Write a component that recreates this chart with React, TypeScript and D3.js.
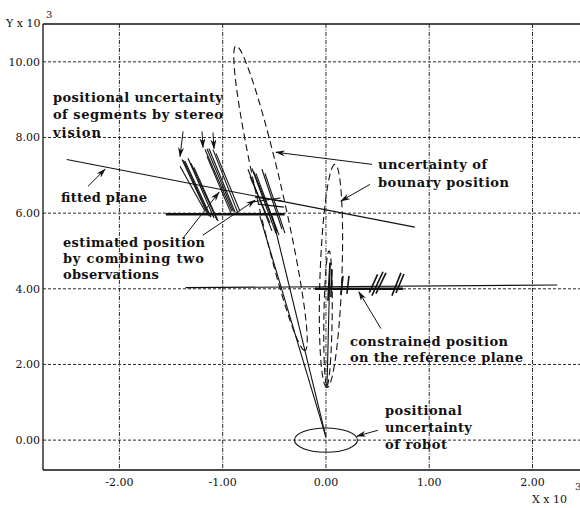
import React from "react";
import * as d3 from "d3";

// axis ticks (values are x 10^3)
const xTicks = [-2, -1, 0, 1, 2];
const yTicks = [0, 2, 4, 6, 8, 10];

// segments measured by stereo vision [x1, y1, x2, y2]
const stereoSegments = [
  [-1.394, 7.42, -1.142, 5.95],
  [-1.38, 7.40, -1.128, 5.92],
  [-1.365, 7.37, -1.113, 5.89],
  [-1.336, 7.45, -1.084, 5.87],
  [-1.307, 7.32, -1.055, 5.82],
  [-1.413, 7.24, -1.171, 6.05],
  [-1.278, 7.21, -1.045, 5.79],
  [-1.171, 7.68, -0.91, 6.05],
  [-1.152, 7.70, -0.895, 6.04],
  [-1.133, 7.71, -0.881, 6.03],
  [-1.094, 7.68, -0.852, 6.0],
  [-1.152, 7.5, -0.92, 6.0],
  [-1.065, 7.58, -0.833, 6.05],
  [-0.755, 7.16, -0.523, 5.53],
  [-0.716, 7.18, -0.484, 5.47],
  [-0.70, 7.10, -0.47, 5.50],
  [-0.678, 7.05, -0.455, 5.42],
  [-0.62, 7.16, -0.426, 5.58],
  [-0.59, 7.05, -0.397, 5.47],
  [-0.736, 6.97, -0.542, 5.74],
];

// estimated positions after combining two observations
const estimatedSegments = [
  [-0.687, 6.42, -0.426, 6.32],
  [-0.658, 6.24, -0.407, 6.16],
  [-0.70, 6.30, -0.44, 6.40],
];

// positions constrained on the reference plane
const constrainedMarks = [
  [0.039, 4.68, 0.019, 3.68],
  [0.058, 4.52, 0.048, 3.78],
  [0.165, 4.34, 0.145, 3.84],
  [0.223, 4.34, 0.203, 3.87],
  [0.552, 4.45, 0.445, 3.82],
  [0.581, 4.42, 0.484, 3.87],
  [0.50, 4.38, 0.42, 3.90],
  [0.726, 4.42, 0.639, 3.82],
  [0.755, 4.39, 0.678, 3.89],
];

const fittedPlane = [-2.51, 7.42, 0.86, 5.63];
const referencePlane = [-1.36, 4.03, 2.24, 4.1];
const boldLines = [
  [-1.55, 5.97, -0.4, 5.97],
  [-0.106, 4.0, 0.745, 4.0],
];
const sightLines = [
  [0, 0.08, -0.64, 5.92],
  [0, 0.08, -0.52, 5.92],
  [0.01, 1.39, 0.04, 4.7],
];

// boundary uncertainty ellipses: tip x, tip y, base x, base y, half width
const boundaryEllipses = [
  [-0.871, 10.42, -0.203, 2.37, 0.126],
  [0.087, 7.29, 0.01, 1.39, 0.106],
  [0.03, 5.0, 0.01, 1.45, 0.04],
];
// robot position uncertainty: cx, cy, rx, ry
const robotEllipse = [0, 0, 0.305, 0.32];

const arrows = [
  [0.445, 7.29, -0.484, 7.61],
  [0.426, 6.76, 0.145, 6.32],
  [-2.304, 6.71, -2.139, 7.16],
  [-1.384, 8.16, -1.413, 7.5],
  [-1.2, 8.16, -1.191, 7.74],
  [-1.094, 8.13, -1.084, 7.71],
  [-1.384, 5.34, -1.036, 6.55],
  [-1.191, 5.42, -0.687, 6.34],
  [0.532, 2.95, 0.319, 3.92],
  [0.503, 0.26, 0.3, 0.105],
];

const labelText = [
  "positional uncertainty",
  "of segments by stereo",
  "vision",
  "fitted plane",
  "estimated position",
  "by combining two",
  "observations",
  "uncertainty of",
  "bounary position",
  "constrained position",
  "on the reference plane",
  "positional",
  "uncertainty",
  "of robot",
];
const labelX = [-2.644, -2.644, -2.644, -2.566, -2.547, -2.547, -2.547, 0.504, 0.504, 0.232, 0.232, 0.571, 0.571, 0.571];
const labelY = [8.94, 8.49, 8.01, 6.29, 5.1, 4.68, 4.26, 7.17, 6.7, 2.49, 2.07, 0.66, 0.21, -0.23];
const labelWidth = [170, 170, 48, 86, 142, 141, 96, 109, 131, 158, 173, 77, 87, 62];

const W = 580;
const H = 508;

const App = () => {
  const x = d3.scaleLinear().domain([-2.74, 2.46]).range([43, 580]);
  const y = d3.scaleLinear().domain([-0.79, 11.0]).range([470, 24]);
  const unit = x(1) - x(0);
  const ink = "#111";

  const seg = (d: number[], i: number, props: any) => (
    <line key={i} x1={x(d[0])} y1={y(d[1])} x2={x(d[2])} y2={y(d[3])} {...props} />
  );

  const ellipsePath = (e: number[]) => {
    const p1 = [x(e[0]), y(e[1])];
    const p2 = [x(e[2]), y(e[3])];
    const cx = (p1[0] + p2[0]) / 2;
    const cy = (p1[1] + p2[1]) / 2;
    const a = Math.hypot(p2[0] - p1[0], p2[1] - p1[1]) / 2;
    const b = e[4] * unit;
    const ang = Math.atan2(p2[1] - p1[1], p2[0] - p1[0]);
    const pts = d3.range(0, 96).map((k) => {
      const t = (k / 96) * Math.PI * 2;
      const u = a * Math.cos(t);
      const v = b * Math.sin(t);
      return [cx + u * Math.cos(ang) - v * Math.sin(ang), cy + u * Math.sin(ang) + v * Math.cos(ang)] as [number, number];
    });
    return d3.line().curve(d3.curveLinearClosed)(pts) || "";
  };

  const left = x.range()[0];
  const right = x.range()[1];
  const top = y.range()[1];
  const bottom = y.range()[0];

  return (
    <svg width={W} height={H} style={{ position: "absolute", left: 0, top: 0, background: "#fff" }}>
      <defs>
        <marker id="arr" viewBox="0 0 10 6" refX="9" refY="3" markerWidth="10" markerHeight="6"
          markerUnits="userSpaceOnUse" orient="auto">
          <path d="M0,0 L10,3 L0,6 L3,3 Z" fill={ink} />
        </marker>
      </defs>

      {/* grid */}
      <g stroke={ink} strokeWidth={0.9} strokeDasharray="3,2">
        {yTicks.map((t) => (
          <line key={"h" + t} x1={left} x2={right} y1={y(t)} y2={y(t)} />
        ))}
        {xTicks.map((t) => (
          <line key={"v" + t} x1={x(t)} x2={x(t)} y1={top} y2={bottom} strokeDasharray="4,1.5,1,1.5" />
        ))}
      </g>

      {/* frame */}
      <g stroke={ink} strokeWidth={1.3} fill="none">
        <line x1={left} x2={right} y1={top} y2={top} />
        <line x1={left} x2={left} y1={top} y2={bottom} />
        <line x1={left} x2={right} y1={bottom} y2={bottom} />
      </g>

      {/* tick labels */}
      <g fontFamily="DejaVu Serif" fontSize={11} fill={ink}>
        {yTicks.map((t) => (
          <text key={"yl" + t} x={left - 3} y={y(t) + 4} textAnchor="end">{t.toFixed(2)}</text>
        ))}
        {xTicks.map((t) => (
          <text key={"xl" + t} x={x(t)} y={bottom + 16} textAnchor="middle">{t.toFixed(2)}</text>
        ))}
        <text x={6} y={27}>Y x 10</text>
        <text x={46} y={18} fontSize={10}>3</text>
        <text x={532} y={503}>X x 10</text>
        <text x={575} y={490} fontSize={10}>3</text>
      </g>

      {/* uncertainty ellipses */}
      <g fill="none" stroke={ink} strokeWidth={1.1} strokeDasharray="7,4">
        {boundaryEllipses.map((e, i) => (
          <path key={i} d={ellipsePath(e)} />
        ))}
      </g>
      <ellipse cx={x(robotEllipse[0])} cy={y(robotEllipse[1])}
        rx={robotEllipse[2] * unit} ry={y(0) - y(robotEllipse[3])}
        fill="none" stroke={ink} strokeWidth={1.1} />

      {/* planes and lines of sight */}
      <g stroke={ink} strokeWidth={1.1}>
        {seg(fittedPlane, 0, {})}
        {seg(referencePlane, 1, {})}
        {sightLines.map((d, i) => seg(d, i, {}))}
      </g>
      <g stroke={ink} strokeWidth={2.6}>
        {boldLines.map((d, i) => seg(d, i, {}))}
      </g>

      {/* measured segments */}
      <g stroke={ink} strokeWidth={1.1}>
        {stereoSegments.map((d, i) => seg(d, i, {}))}
      </g>
      <g stroke={ink} strokeWidth={1.2}>
        {estimatedSegments.map((d, i) => seg(d, i, {}))}
      </g>
      <g stroke={ink} strokeWidth={1.6}>
        {constrainedMarks.map((d, i) => seg(d, i, {}))}
      </g>

      {/* annotation arrows */}
      <g stroke={ink} strokeWidth={1}>
        {arrows.map((d, i) => seg(d, i, { markerEnd: "url(#arr)" }))}
      </g>

      {/* annotation text */}
      <g fontFamily="DejaVu Serif" fontWeight="bold" fontSize={13} fill={ink}>
        {labelText.map((t, i) => (
          <text key={i} x={x(labelX[i])} y={y(labelY[i])} textLength={labelWidth[i]} lengthAdjust="spacing">{t}</text>
        ))}
      </g>
    </svg>
  );
};

export default App;
